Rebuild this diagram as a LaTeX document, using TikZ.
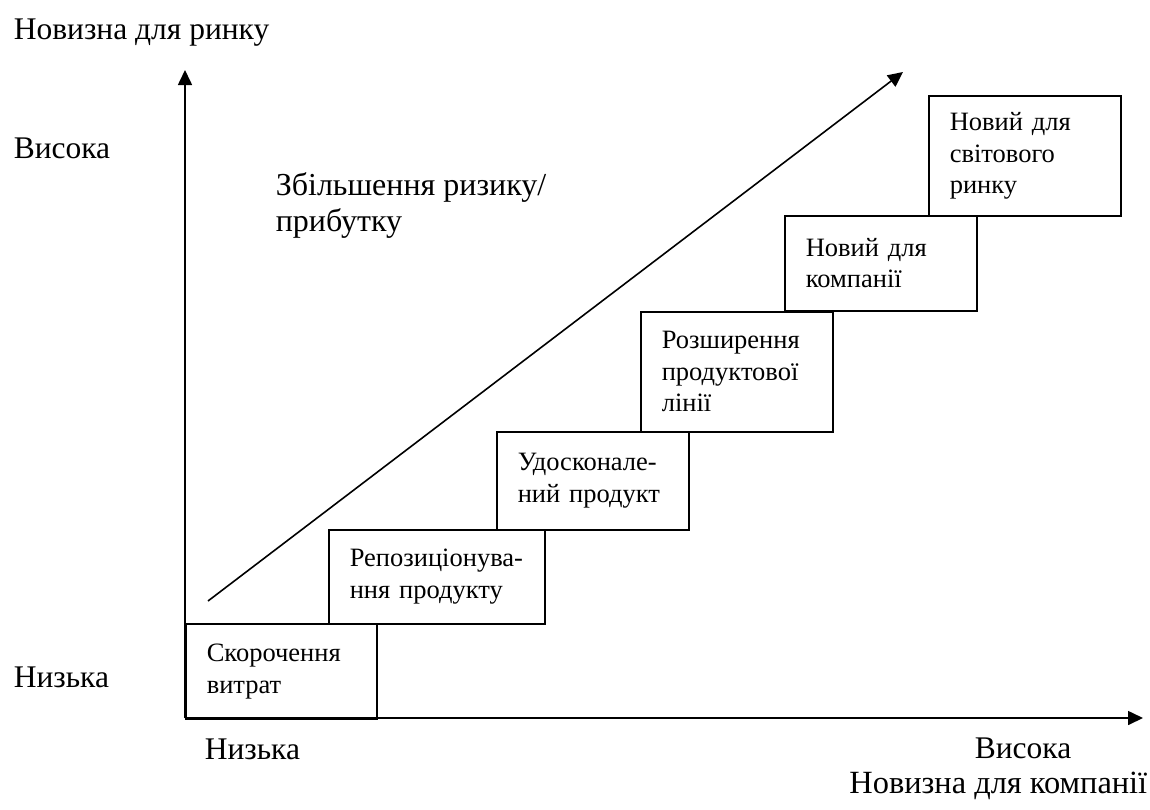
\documentclass[tikz,border=0pt]{standalone}
\usepackage{fontspec}
\setmainfont{Liberation Serif}
\usetikzlibrary{arrows.meta}
\begin{document}
\begin{tikzpicture}[x=1pt,y=-1pt,
  line width=1.6pt,
  axisarrow/.style={-{Triangle[length=15pt,width=14pt]}},
  stepbox/.style={draw,line width=1.6pt,anchor=north west,align=left,inner xsep=21pt,inner ysep=0pt,
    font=\fontsize{26.5}{31.5}\selectfont,execute at begin node={\hyphenpenalty=10000\relax}},
  lbl/.style={font=\fontsize{31.5}{36}\selectfont,inner sep=0pt}]
\useasboundingbox (0,0) rectangle (1150,809);
% axes
\coordinate (O) at (185,718);
\coordinate (ytip) at (185,70);
\coordinate (xtip) at (1143,718);
\draw[axisarrow] (O) -- (ytip);
\draw[axisarrow] (O) -- (xtip);
% diagonal arrow
\coordinate (d1) at (208,601);
\coordinate (d2) at (903,72);
\draw[axisarrow] (d1) -- (d2);
% boxes
\node[stepbox,text width=149pt,minimum height=95pt] (b1) at (185,623) {Скорочення\\витрат};
\node[stepbox,text width=174pt,minimum height=94pt] (b2) at (328,529) {Репозиціонува-\\ння продукту};
\node[stepbox,text width=150pt,minimum height=98pt] (b3) at (496,431) {Удосконале-\\ний продукт};
\node[stepbox,text width=150pt,minimum height=120pt] (b4) at (640,311) {Розширення\\продуктової\\лінії};
\node[stepbox,text width=150pt,minimum height=95pt] (b5) at (784,215) {Новий для\\компанії};
\node[stepbox,text width=150pt,minimum height=120pt] (b6) at (928,95) {Новий для\\світового\\ринку};
% labels
\node[lbl,anchor=base west] (ly) at (13,39) {Новизна для ринку};
\node[lbl,anchor=base west] (lyh) at (13,158) {Висока};
\node[lbl,anchor=base west] (lyl) at (13,687) {Низька};
\node[lbl,anchor=base west] (lxl) at (204,759) {Низька};
\node[lbl,anchor=base west] (lxh) at (974,758) {Висока};
\node[lbl,anchor=base east,font=\fontsize{32.4}{36}\selectfont] (lx) at (1148,793) {Новизна для компанії};
\node[lbl,anchor=base west,align=left,font=\fontsize{32}{36}\selectfont] (risk) at (275,231) {Збільшення ризику/\\прибутку};
\end{tikzpicture}
\end{document}
